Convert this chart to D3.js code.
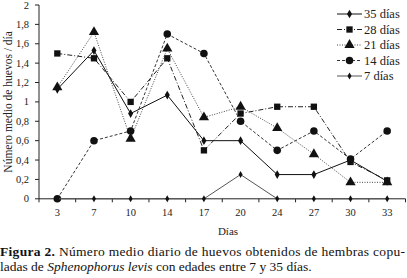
<!DOCTYPE html>
<html>
<head>
<meta charset="utf-8">
<script src="https://cdn.jsdelivr.net/npm/d3@7"></script>
<style>
  body { margin: 0; background: #fff; }
</style>
</head>
<body>
<script>
const days = ["3", "7", "10", "14", "17", "20", "24", "27", "30", "33"];
const yTicks = [0, 0.2, 0.4, 0.6, 0.8, 1, 1.2, 1.4, 1.6, 1.8, 2];

const d35 = [1.13, 1.53, 0.88, 1.07, 0.6, 0.6, 0.25, 0.25, 0.4, 0.18];
const d28 = [1.5, 1.45, 1.0, 1.45, 0.5, 0.88, 0.95, 0.95, 0.38, 0.19];
const d21 = [1.15, 1.72, 0.62, 1.55, 0.84, 0.95, 0.73, 0.46, 0.17, 0.17];
const d14 = [0, 0.6, 0.7, 1.7, 1.5, 0.8, 0.5, 0.7, 0.41, 0.7];
const d7 = [0, 0, 0, 0, 0, 0.25, 0, 0, 0, 0];

const seriesNames = ["35 días", "28 días", "21 días", "14 días", "7 días"];

const width = 407;
const height = 278;
const serif = "'Liberation Serif', 'Times New Roman', 'DejaVu Serif', serif";

const series = [
  { name: seriesNames[0], values: d35, dash: null, color: "#111", sym: d3.symbolDiamond, size: 22 },
  { name: seriesNames[1], values: d28, dash: "5,2,1,2", color: "#222", sym: d3.symbolSquare, size: 40 },
  { name: seriesNames[2], values: d21, dash: "1,1.5", color: "#444", sym: d3.symbolTriangle, size: 45 },
  { name: seriesNames[3], values: d14, dash: "3,2", color: "#333", sym: d3.symbolCircle, size: 45 },
  { name: seriesNames[4], values: d7, dash: null, color: "#555", sym: d3.symbolDiamond, size: 14 },
];

const x = d3.scaleBand().domain(days).range([39, 405.5]).padding(0);
const y = d3.scaleLinear().domain([0, 2]).range([198.8, 5]);

const svg = d3
  .select("body")
  .append("svg")
  .attr("width", width)
  .attr("height", height)
  .attr("font-family", serif)
  .style("display", "block");

// axes
const axisG = svg.append("g").attr("stroke", "#222").attr("stroke-width", 1);
axisG.append("line").attr("x1", 39).attr("x2", 39).attr("y1", y(2)).attr("y2", y(0));
axisG.append("line").attr("x1", 39).attr("x2", 405.5).attr("y1", y(0)).attr("y2", y(0));

axisG
  .selectAll(".yt")
  .data(yTicks)
  .enter()
  .append("line")
  .attr("x1", 35)
  .attr("x2", 39)
  .attr("y1", (d) => y(d))
  .attr("y2", (d) => y(d));

const xBounds = days.map((d) => x(d)).concat([x.range()[1]]);
axisG
  .selectAll(".xt")
  .data(xBounds)
  .enter()
  .append("line")
  .attr("x1", (d) => d)
  .attr("x2", (d) => d)
  .attr("y1", y(0))
  .attr("y2", y(0) + 3.5);

svg
  .append("g")
  .selectAll("text")
  .data(yTicks)
  .enter()
  .append("text")
  .attr("x", 29)
  .attr("y", (d) => y(d) + 3.5)
  .attr("text-anchor", "end")
  .attr("font-size", 10.5)
  .attr("fill", "#222")
  .text((d) => String(d).replace(".", ","));

svg
  .append("g")
  .selectAll("text")
  .data(days)
  .enter()
  .append("text")
  .attr("x", (d) => x(d) + x.bandwidth() / 2)
  .attr("y", 215.5)
  .attr("text-anchor", "middle")
  .attr("font-size", 10.5)
  .attr("fill", "#222")
  .text((d) => d);

svg
  .append("text")
  .attr("x", 228)
  .attr("y", 235)
  .attr("text-anchor", "middle")
  .attr("font-size", 11)
  .attr("fill", "#222")
  .text("Días");

svg
  .append("text")
  .attr("transform", `translate(12 ${y(1)}) rotate(-90)`)
  .attr("text-anchor", "middle")
  .attr("font-size", 11.5)
  .attr("fill", "#222")
  .text("Número medio de huevos / día");

// lines + markers
const line = d3
  .line()
  .x((d, i) => x(days[i]) + x.bandwidth() / 2)
  .y((d) => y(d));

const sGroups = svg
  .append("g")
  .selectAll("g")
  .data(series)
  .enter()
  .append("g");

sGroups
  .append("path")
  .attr("d", (s) => line(s.values))
  .attr("fill", "none")
  .attr("stroke", (s) => s.color)
  .attr("stroke-width", 1)
  .attr("stroke-dasharray", (s) => s.dash);

sGroups.each(function (s) {
  d3.select(this)
    .selectAll(".m")
    .data(s.values)
    .enter()
    .append("path")
    .attr("d", d3.symbol().type(s.sym).size(s.size))
    .attr("transform", (d, i) => `translate(${x(days[i]) + x.bandwidth() / 2} ${y(d)})`)
    .attr("fill", "#111");
});

// legend
const legend = svg
  .append("g")
  .selectAll("g")
  .data(series)
  .enter()
  .append("g")
  .attr("transform", (d, i) => `translate(337 ${14 + i * 15.5})`);

legend
  .append("line")
  .attr("x1", 0)
  .attr("x2", 25)
  .attr("stroke", (s) => s.color)
  .attr("stroke-width", 1)
  .attr("stroke-dasharray", (s) => s.dash);

legend
  .append("path")
  .attr("d", (s) => d3.symbol().type(s.sym).size(s.size)())
  .attr("transform", "translate(12.5 0)")
  .attr("fill", "#111");

legend
  .append("text")
  .attr("x", 27)
  .attr("y", 4)
  .attr("font-size", 12.5)
  .attr("fill", "#222")
  .text((s) => s.name);

// caption, two lines as separate texts
const l1 = svg
  .append("text")
  .attr("font-size", 13.5)
  .attr("fill", "#111")
  .attr("x", 0)
  .attr("y", 256)
  .attr("textLength", 405)
  .attr("lengthAdjust", "spacing");
l1.append("tspan").attr("font-weight", "bold").text("Figura 2.");
l1.append("tspan").text(" Número medio diario de huevos obtenidos de hembras copu-");

const l2 = svg
  .append("text")
  .attr("font-size", 13.5)
  .attr("fill", "#111")
  .attr("x", 0)
  .attr("y", 271);
l2.append("tspan").text("ladas de ");
l2.append("tspan").attr("font-style", "italic").text("Sphenophorus levis");
l2.append("tspan").text(" con edades entre 7 y 35 días.");
</script>
</body>
</html>
